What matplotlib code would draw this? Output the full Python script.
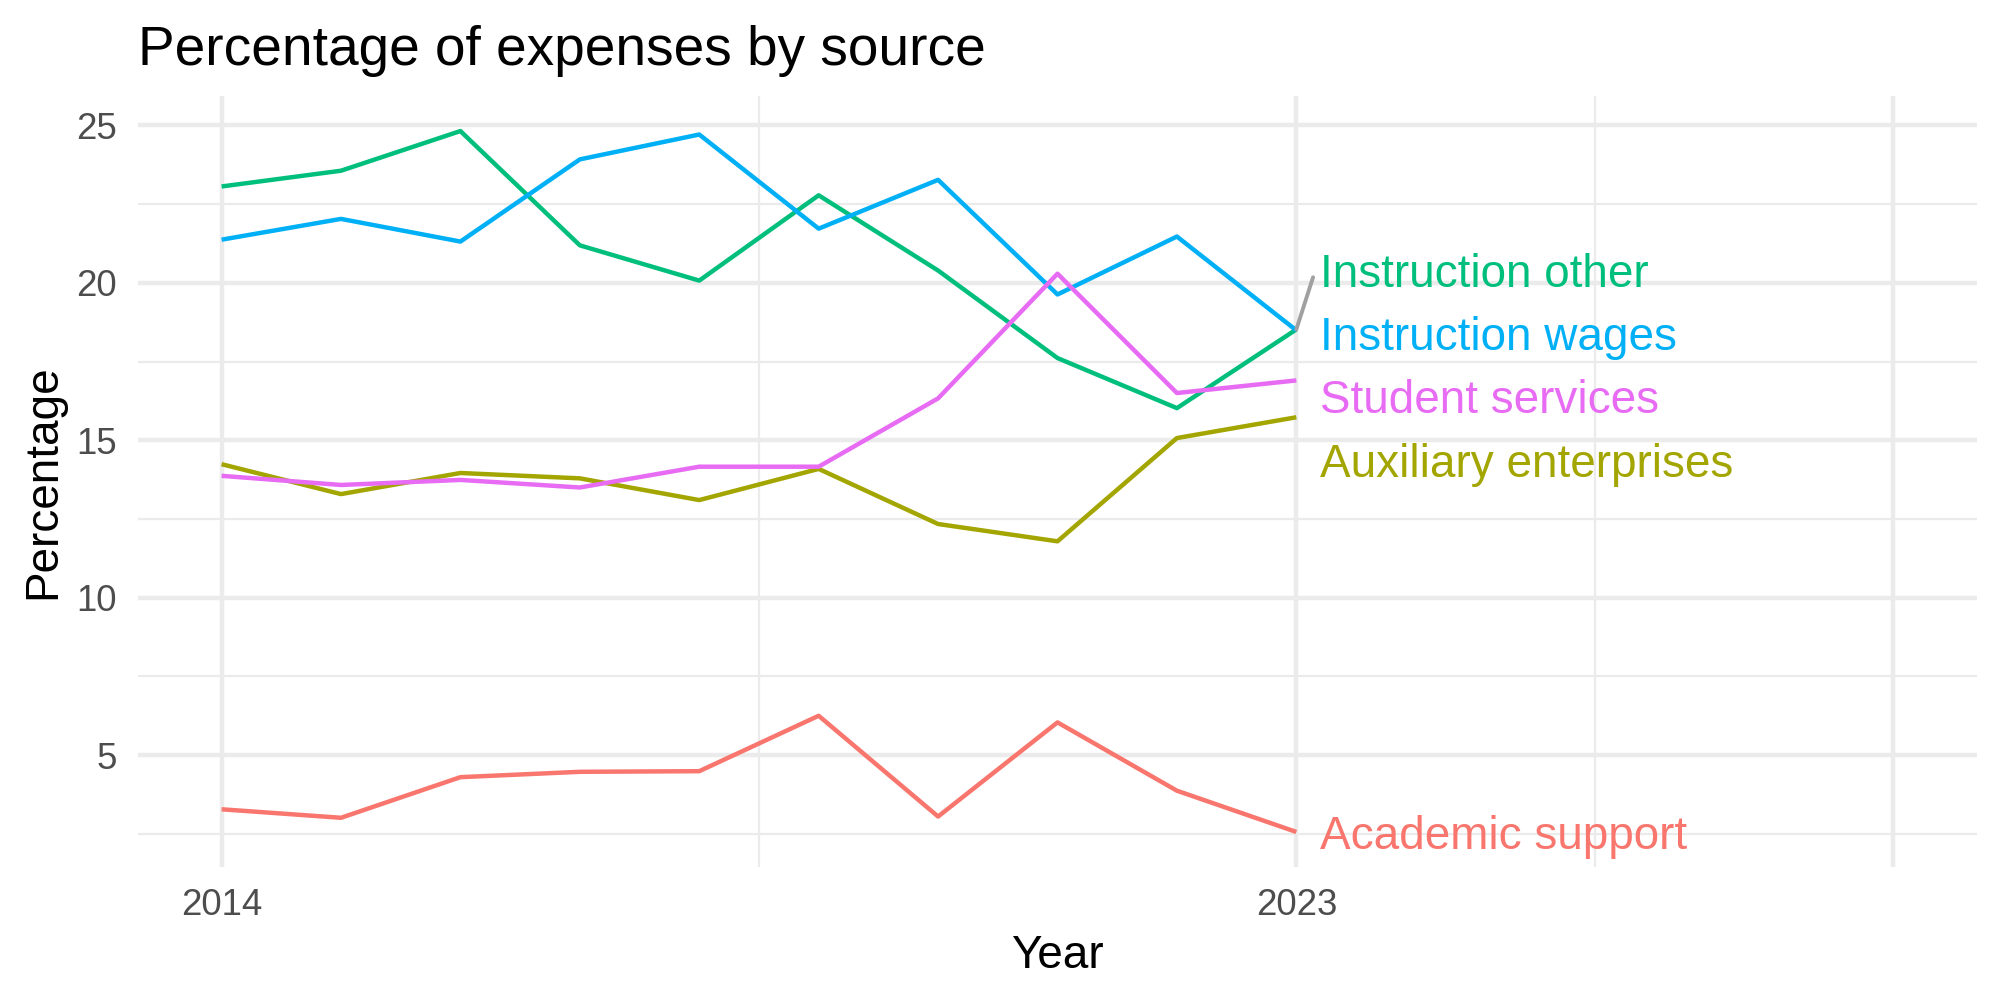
import numpy as np
import matplotlib.pyplot as plt

plt.rcParams['font.family'] = ['Liberation Sans', 'DejaVu Sans']

# Data
years = [2014, 2015, 2016, 2017, 2018, 2019, 2020, 2021, 2022, 2023]
academic_support = [3.28, 3.01, 4.30, 4.47, 4.49, 6.25, 3.05, 6.04, 3.87, 2.56]
auxiliary_enterprises = [14.24, 13.29, 13.96, 13.79, 13.10, 14.09, 12.34, 11.79, 15.07, 15.73]
instruction_other = [23.06, 23.56, 24.82, 21.19, 20.07, 22.78, 20.39, 17.61, 16.02, 18.52]
instruction_wages = [21.37, 22.03, 21.31, 23.92, 24.71, 21.72, 23.27, 19.63, 21.47, 18.49]
student_services = [13.87, 13.58, 13.74, 13.50, 14.16, 14.16, 16.33, 20.29, 16.50, 16.90]

names = ["Academic support", "Auxiliary enterprises", "Instruction other",
         "Instruction wages", "Student services"]
series = [academic_support, auxiliary_enterprises, instruction_other,
          instruction_wages, student_services]
colors = ["#F8766D", "#A3A500", "#00BF7D", "#00B0F6", "#E76BF3"]

x_breaks = [2014, 2023, 2028]
x_labels = ["2014", "2023", ""]

fig, ax = plt.subplots(figsize=(20, 10), dpi=100)
fig.subplots_adjust(left=0.069, right=0.9885, top=0.904, bottom=0.133)

for vals, col in zip(series, colors):
    ax.plot(years, vals, color=col, lw=3.2, zorder=3, solid_capstyle='butt')

# simple label repel: labels that sit too close get spread around their mean
last = np.array([v[-1] for v in series])
gap = 2.01
order = np.argsort(-last)
label_y = last.copy()
groups = [[order[0]]]
for i in order[1:]:
    if label_y[groups[-1][-1]] - last[i] < gap:
        groups[-1].append(i)
    else:
        groups.append([i])
for g in groups:
    mid = last[g].mean()
    n = len(g)
    for k, i in enumerate(g):
        label_y[i] = mid + ((n - 1) / 2 - k) * gap

x_text = years[-1] + 0.2
for i, name in enumerate(names):
    # small shift so the text sits like ggplot's vjust = 0.5
    ax.text(x_text, label_y[i] - 0.17, name, color=colors[i], fontsize=33,
            ha='left', va='center', zorder=4)
    if label_y[i] - last[i] > 1.5:
        ax.plot([years[-1], x_text - 0.06], [last[i], label_y[i] - 0.25],
                color='#A0A0A0', lw=2.8, zorder=4, solid_capstyle='round')

# axes styling like ggplot theme_minimal
lo = min(min(v) for v in series)
hi = max(max(v) for v in series)
pad = 0.05 * (hi - lo)
ax.set_ylim(lo - pad, hi + pad)
ax.set_xlim(2013.3, 2028.7)

ax.set_xticks(x_breaks)
ax.set_xticklabels(x_labels)
ax.set_xticks([2018.5, 2025.5], minor=True)
ax.set_yticks([5, 10, 15, 20, 25])
ax.set_yticks([2.5, 7.5, 12.5, 17.5, 22.5], minor=True)
ax.grid(which='major', color='#EBEBEB', lw=3.2, zorder=0)
ax.grid(which='minor', color='#EBEBEB', lw=1.6, zorder=0)
ax.set_axisbelow(True)
for s in ax.spines.values():
    s.set_visible(False)
ax.tick_params(which='both', length=0)
ax.tick_params(axis='x', labelsize=26.4, labelcolor='#4D4D4D', pad=15)
ax.tick_params(axis='y', labelsize=26.4, labelcolor='#4D4D4D', pad=15)

ax.set_xlabel("Year", fontsize=33, labelpad=8)
ax.set_ylabel("Percentage", fontsize=33, labelpad=8)
ax.set_title("Percentage of expenses by source", fontsize=39.6, loc='left', pad=22)

fig.savefig("out.png", dpi=100)
